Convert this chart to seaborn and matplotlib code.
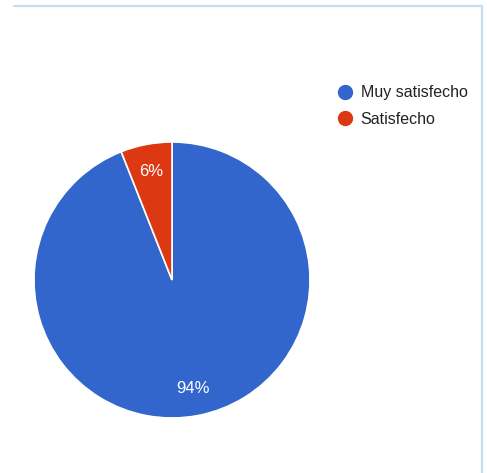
import seaborn as sns
import matplotlib.pyplot as plt
from matplotlib.lines import Line2D

labels = ['Muy satisfecho', 'Satisfecho']
values = [94, 6]
colors = ['#3366cc', '#dc3912']

sns.set_theme(style="white")
plt.rcParams['font.family'] = ['Liberation Sans', 'DejaVu Sans']

fig = plt.figure(figsize=(4.87, 4.73), dpi=100)
W, H = 487, 473

# pie centred at (172, 280) px, radius 138 px
cx, cy, r = 172, 280, 138
ax = fig.add_axes([(cx - r) / W, (H - cy - r) / H, 2 * r / W, 2 * r / H])
wedges, texts, autotexts = ax.pie(
    values, colors=colors, startangle=90, counterclock=False,
    autopct='%1.0f%%', pctdistance=0.8,
    wedgeprops=dict(edgecolor='white', linewidth=1.2),
    textprops=dict(color='white', fontsize=12))
ax.set_xlim(-1, 1)
ax.set_ylim(-1, 1)
ax.set_aspect('equal')
ax.axis('off')

handles = [Line2D([], [], marker='o', linestyle='', markersize=10,
                  markerfacecolor=c, markeredgecolor=c) for c in colors]
fig.legend(handles, labels, loc='upper left',
           bbox_to_anchor=(331 / W, 1 - 79 / H), frameon=False,
           fontsize=11.5, handletextpad=0.45, labelspacing=0.7,
           handlelength=1.0, labelcolor='#222222', borderaxespad=0)

# light blue frame on top and right
border = '#c6dff0'
fig.add_artist(Line2D([14 / W, 482 / W], [1 - 6.5 / H, 1 - 6.5 / H],
                      transform=fig.transFigure, color=border, linewidth=1.6))
fig.add_artist(Line2D([481.5 / W, 481.5 / W], [1 - 6 / H, 0],
                      transform=fig.transFigure, color=border, linewidth=1.6))

fig.savefig('out.png', dpi=100)
